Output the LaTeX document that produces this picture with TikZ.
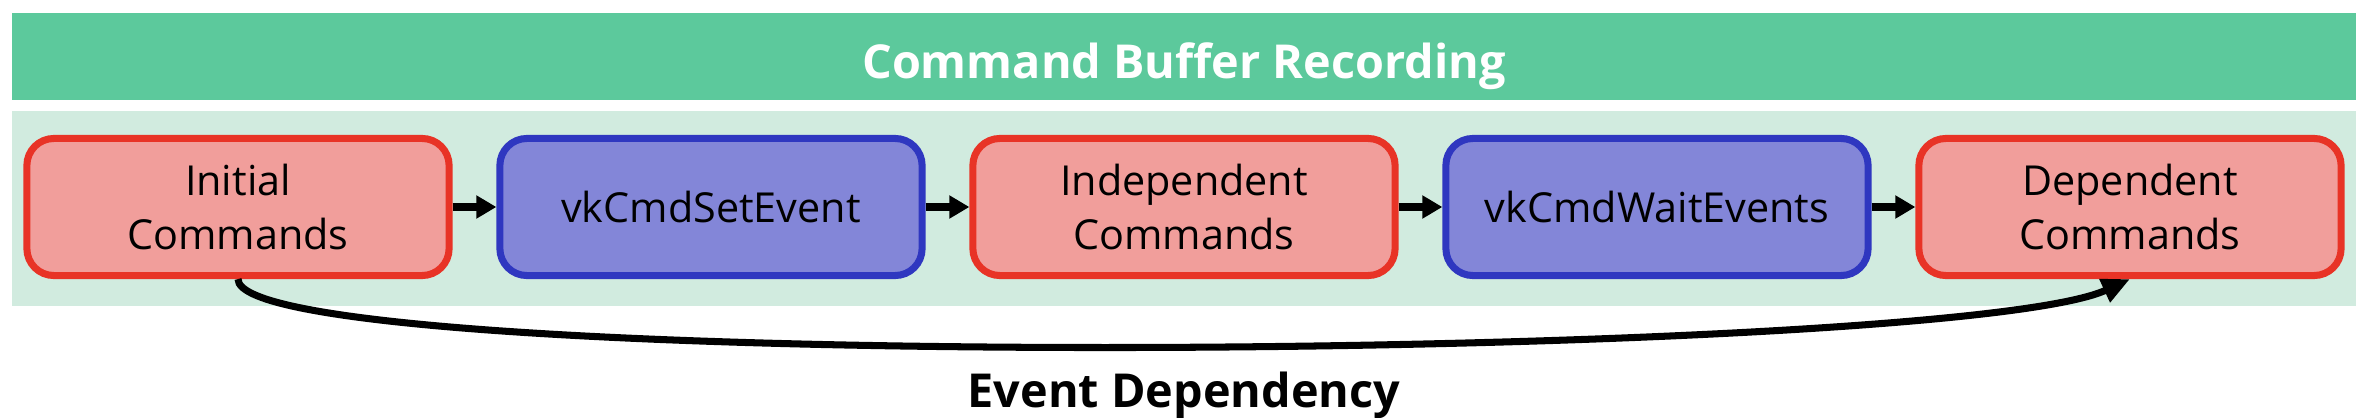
\documentclass[tikz,border=0pt]{standalone}
\usepackage{fontspec}
\setmainfont{Open Sans}
\usetikzlibrary{arrows.meta}
\definecolor{titlegreen}{RGB}{92,201,156}
\definecolor{bandgreen}{RGB}{209,235,223}
\definecolor{redfill}{RGB}{241,158,155}
\definecolor{redline}{RGB}{232,51,38}
\definecolor{bluefill}{RGB}{131,134,216}
\definecolor{blueline}{RGB}{47,55,192}
\tikzset{
  cmdbox/.style={rounded corners=0.27cm, line width=2pt, minimum width=4.22cm, minimum height=1.37cm,
    align=center, inner sep=0pt, font=\fontsize{11.75}{15.6}\selectfont},
  redbox/.style={cmdbox, draw=redline, fill=redfill},
  bluebox/.style={cmdbox, draw=blueline, fill=bluefill},
  flow/.style={line width=2.4pt, -{Triangle[length=0.2cm,width=0.22cm]}},
  dep/.style={line width=2pt, -{Triangle[length=0.28cm,width=0.24cm]}},
  heading/.style={font=\fontsize{13.3}{16}\selectfont\bfseries, anchor=base}
}
\begin{document}
\begin{tikzpicture}[x=0.01cm,y=-0.01cm]
\useasboundingbox (0,0) rectangle (2368,418);
\fill[titlegreen] (12,13) rectangle (2356,100);
\fill[bandgreen] (12,111) rectangle (2356,306);
\node[heading, text=white] (title) at (1184,78) {Command Buffer Recording};
\node[redbox] (init) at (238,207) {Initial\\Commands};
\node[bluebox] (set) at (711,207) {vkCmdSetEvent};
\node[redbox] (indep) at (1184,207) {Independent\\Commands};
\node[bluebox] (wait) at (1657,207) {vkCmdWaitEvents};
\node[redbox] (dep) at (2130,207) {Dependent\\Commands};
\draw[flow] (init.east) -- (set.west);
\draw[flow] (set.east) -- (indep.west);
\draw[flow] (indep.east) -- (wait.west);
\draw[flow] (wait.east) -- (dep.west);
\draw[dep] (init.south) .. controls (237,375) and (1950,362) .. (dep.south);
\node[heading] (label) at (1184,407) {Event Dependency};
\end{tikzpicture}
\end{document}
